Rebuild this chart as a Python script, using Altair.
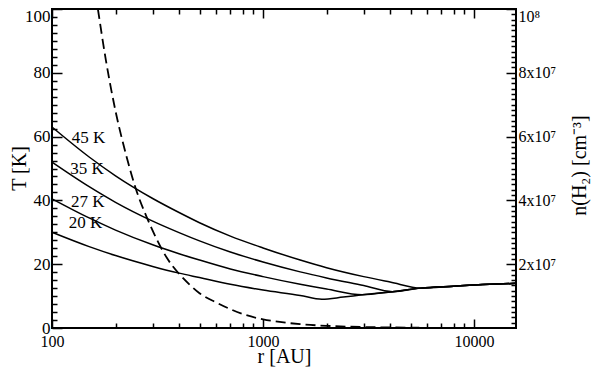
import altair as alt
import pandas as pd

FONT = "Liberation Serif, Times New Roman, Times, serif"

# Temperature profiles: radius r [AU] and temperature T [K]
r_45 = [100, 150, 200, 300, 400, 500, 700, 1000, 1500, 2000, 3000, 4000, 5600, 8000, 11000, 15800]
T_45 = [63.0, 53.6, 47.7, 40.6, 36.2, 33.0, 28.8, 25.1, 21.3, 18.9, 16.1, 14.4, 12.5, 13.1, 13.6, 14.0]
r_35 = [100, 150, 200, 300, 400, 500, 700, 1000, 1500, 2000, 3000, 4100, 5600, 8000, 11000, 15800]
T_35 = [52.0, 44.3, 39.4, 33.5, 29.9, 27.3, 23.8, 20.7, 17.6, 15.7, 13.3, 11.4, 12.5, 13.1, 13.6, 14.0]
r_27 = [100, 150, 200, 300, 400, 500, 700, 1000, 1500, 2000, 2950, 4100, 5600, 8000, 11000, 15800]
T_27 = [40.5, 34.5, 30.7, 26.1, 23.3, 21.3, 18.5, 16.1, 13.7, 12.2, 10.4, 11.4, 12.5, 13.1, 13.6, 14.0]
r_20 = [100, 150, 200, 300, 400, 500, 700, 1000, 1500, 1900, 2400, 2950, 4100, 5600, 8000, 11000, 15800]
T_20 = [30.0, 25.5, 22.7, 19.3, 17.2, 15.8, 13.7, 11.9, 10.2, 9.0, 9.7, 10.4, 11.4, 12.5, 13.1, 13.6, 14.0]

# Curve labels
label_text = ["45 K", "35 K", "27 K", "20 K"]
label_r = [124, 122, 123, 120]
label_T = [59.5, 49.8, 39.6, 32.8]

# Density profile n(H2) [cm^-3]
r_n = [165, 180, 200, 225, 250, 280, 310, 350, 400, 450, 500, 600, 700, 800, 1000,
       1200, 1500, 2000, 2500, 3000, 4000, 5500]
n_H2 = [1.0e8, 8.4e7, 6.8e7, 5.4e7, 4.35e7, 3.5e7, 2.85e7, 2.2e7, 1.7e7, 1.35e7, 1.09e7,
        8.0e6, 5.9e6, 4.4e6, 2.7e6, 1.9e6, 1.2e6, 6.8e5, 4.4e5, 3.0e5, 1.7e5, 9.0e4]

# Axis tick values
x_major = [100, 1000, 10000]
x_minor = [200, 300, 400, 500, 600, 700, 800, 900, 2000, 3000, 4000, 5000, 6000, 7000, 8000, 9000]
y_major = [0, 20, 40, 60, 80, 100]
y_minor = [v * 2.5 for v in range(41) if (v * 2.5) % 20 != 0]
n_major = [2e7, 4e7, 6e7, 8e7, 1e8]
n_minor = [k * 1e8 / 60 for k in range(1, 60) if k % 12 != 0]

rows = []
for name, rs, ts in [("45 K", r_45, T_45), ("35 K", r_35, T_35),
                     ("27 K", r_27, T_27), ("20 K", r_20, T_20)]:
    for i, (r, t) in enumerate(zip(rs, ts)):
        rows.append({"curve": name, "r": r, "T": t, "order": i})
df_T = pd.DataFrame(rows)
df_lab = pd.DataFrame({"text": label_text, "r": label_r, "T": label_T})
df_n = pd.DataFrame({"r": r_n, "n": n_H2, "order": list(range(len(r_n)))})

xs = alt.Scale(type="log", domain=[100, 15800], nice=False)
ys = alt.Scale(domain=[0, 100], nice=False, zero=False)
ns = alt.Scale(domain=[0, 1e8], nice=False, zero=False)


def axis(**kw):
    base = dict(grid=False, offset=0, domain=False, domainColor="black", tickColor="black",
                labelColor="black", titleColor="black", labelFont=FONT, titleFont=FONT,
                labelFontSize=17, titleFontSize=20, titleFontWeight="normal",
                tickWidth=1.5, labelOverlap=False, labelFlush=False)
    base.update(kw)
    return alt.Axis(**base)


def tick_axis(orient, values, size):
    # inward ticks: axis shifted inside by its tick length, ticks point back to the frame
    return axis(orient=orient, values=values, labels=False, title="", ticks=True,
                tickSize=size, offset=-size)


x_bottom = axis(orient="bottom", values=x_major, format="d", title="r [AU]",
                ticks=False, labelPadding=5, labelFontSize=16,
                titleX=232, titleY=28, titleBaseline="middle", titleAlign="center", titleAngle=0)
y_left = axis(orient="left", values=y_major, format="d", title="T [K]",
              ticks=False, labelPadding=2,
              labelOffset={"condition": {"test": "datum.value >= 99", "value": 7}, "value": 0},
              titleX=-33, titleY=159, titleAngle=270, titleBaseline="middle", titleAlign="center")
n_right = axis(orient="right", values=n_major, title="n(H₂) [cm⁻³]",
               labelExpr="datum.value >= 9.9e7 ? '10⁸' : format(datum.value / 1e7, 'd') + 'x10⁷'",
               labelAlign="left", labelFontSize=16, ticks=False, labelPadding=2,
               labelOffset={"condition": {"test": "datum.value >= 9.9e7", "value": 7}, "value": 0},
               titleX=63, titleY=156, titleAngle=270, titleBaseline="middle", titleAlign="center")

lines = alt.Chart(df_T).mark_line(color="black", strokeWidth=1.5, interpolate="monotone").encode(
    x=alt.X("r:Q", scale=xs, axis=x_bottom),
    y=alt.Y("T:Q", scale=ys, axis=y_left),
    detail="curve:N",
    order="order:Q",
)

texts = alt.Chart(df_lab).mark_text(align="left", baseline="middle", font=FONT,
                                    fontSize=17, color="black").encode(
    x=alt.X("r:Q", scale=xs, axis=None),
    y=alt.Y("T:Q", scale=ys, axis=None),
    text="text:N",
)


def ghost_T(xaxis, yaxis):
    return alt.Chart(df_T).mark_point(opacity=0).encode(
        x=alt.X("r:Q", scale=xs, axis=xaxis),
        y=alt.Y("T:Q", scale=ys, axis=yaxis),
    )


def ghost_n(yaxis):
    return alt.Chart(df_n).mark_point(opacity=0).encode(
        x=alt.X("r:Q", scale=xs, axis=None),
        y=alt.Y("n:Q", scale=ns, axis=yaxis),
    )


g1 = ghost_T(tick_axis("bottom", x_major, 9), tick_axis("left", y_major, 10))
g2 = ghost_T(tick_axis("bottom", x_minor, 5), tick_axis("left", y_minor, 5))
g3 = ghost_T(tick_axis("top", x_major, 9), None)
g4 = ghost_T(tick_axis("top", x_minor, 5), None)

dens = alt.Chart(df_n).mark_line(color="black", strokeWidth=1.8, strokeDash=[10, 5],
                                 interpolate="monotone", clip=True).encode(
    x=alt.X("r:Q", scale=xs, axis=None),
    y=alt.Y("n:Q", scale=ns, axis=n_right),
    order="order:Q",
)
g5 = ghost_n(tick_axis("right", n_major, 10))
g6 = ghost_n(tick_axis("right", n_minor, 5))

chart = alt.layer(
    lines, texts, g1, g2, g3, g4, dens, g5, g6
).resolve_scale(
    y="independent"
).resolve_axis(
    x="independent", y="independent"
).properties(
    width=464, height=319,
    padding={"left": 44, "top": 1, "right": 76, "bottom": 39},
    autosize=alt.AutoSizeParams(type="none"),
    background="white",
).configure_view(stroke="black", strokeWidth=2)

chart.save("out.html", embed_options={"renderer": "svg", "actions": False})
